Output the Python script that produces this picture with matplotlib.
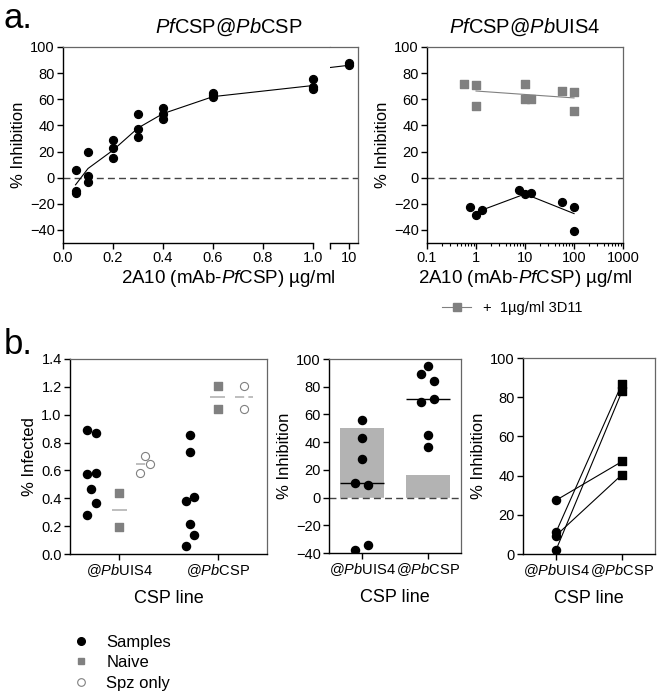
import matplotlib
matplotlib.use('Agg')
import matplotlib.pyplot as plt
from matplotlib.lines import Line2D
import numpy as np

plt.rcParams['font.family'] = ['Liberation Sans', 'DejaVu Sans']
plt.rcParams['mathtext.fontset'] = 'custom'
plt.rcParams['mathtext.rm'] = 'Liberation Sans'
plt.rcParams['mathtext.it'] = 'Liberation Sans:italic'

# ---- panel a (left): PfCSP@PbCSP, dose response ----
dose_pb = [0.05, 0.05, 0.05, 0.1, 0.1, 0.1, 0.2, 0.2, 0.2, 0.3, 0.3, 0.3,
           0.4, 0.4, 0.4, 0.6, 0.6, 0.6, 1.0, 1.0, 1.0, 10, 10]
inh_pb = [6, -10, -11.5, 19.5, 1.5, -3.3, 29, 22.5, 15, 49, 37.5, 31,
          53, 49, 44.5, 65, 63, 62, 75.5, 69, 67.5, 88, 86]
fit_dose_pb = [0.05, 0.1, 0.2, 0.3, 0.4, 0.6, 1.0, 10]
fit_inh_pb = [-5.5, 7, 21, 38, 49, 62, 70.5, 86]

# ---- panel a (right): PfCSP@PbUIS4 ----
dose_3d11 = [0.58, 1, 1, 10, 10, 13.5, 58, 100, 100]
inh_3d11 = [72, 71, 55, 71.5, 60, 60.5, 66, 65.3, 51.3]
fit_dose_3d11 = [1, 100]
fit_inh_3d11 = [66.3, 61]
dose_uis4 = [0.77, 1, 1.35, 7.5, 10, 13.5, 58, 100, 100]
inh_uis4 = [-22.7, -28.3, -24.5, -9.7, -12.8, -11.7, -18.4, -22.7, -40.8]
fit_dose_uis4 = [1, 10, 100]
fit_inh_uis4 = [-26.5, -12.5, -27.5]

# ---- panel b ----
csp_lines = [r'@$\it{Pb}$UIS4', r'@$\it{Pb}$CSP']
infected_samples = [[0.887, 0.866, 0.576, 0.585, 0.465, 0.365, 0.278],
                    [0.854, 0.729, 0.381, 0.408, 0.213, 0.137, 0.06]]
infected_naive = [[0.436, 0.192], [1.204, 1.043]]
infected_spz = [[0.707, 0.645, 0.58], [1.204, 1.043]]
# horizontal jitter within each CSP line
jit_samples = [[-0.33, -0.24, -0.33, -0.24, -0.29, -0.24, -0.33],
               [-0.28, -0.28, -0.32, -0.24, -0.28, -0.24, -0.32]]
jit_spz = [[0.26, 0.31, 0.21], [0.27, 0.27]]

inhibition_samples = [[56.2, 43.1, 27.6, 10.7, 8.8, -37.6, -34.3],
                      [95.2, 89.5, 84, 69, 71.2, 45.5, 36.2]]
jit_inhibition = [[0, 0, 0, -0.1, 0.09, -0.1, 0.09],
                  [0, -0.1, 0.09, -0.1, 0.09, 0, 0]]
inhibition_bars = [50.5, 16.4]

paired_uis4 = [27.4, 11.1, 2.0, 9.4]
paired_csp = [47.2, 86.9, 83.0, 40.5]

GRAY = '#808080'
LGRAY = '#b3b3b3'
TICK_FS = 10.5
YLAB_FS = 12


def style(ax, top=True, right=True):
    for s in ('left', 'bottom'):
        ax.spines[s].set_color('black')
        ax.spines[s].set_linewidth(1.0)
    for s in ('top', 'right'):
        ax.spines[s].set_color('#666666')
        ax.spines[s].set_linewidth(0.9)
    ax.spines['top'].set_visible(top)
    ax.spines['right'].set_visible(right)
    ax.tick_params(direction='out', length=4, width=1, labelsize=TICK_FS, pad=2)


def zero_line(ax):
    ax.axhline(0, color='#444444', lw=1.0, ls=(0, (5, 3)), gapcolor='white', zorder=1)


fig = plt.figure(figsize=(6.6, 6.98), dpi=100)

# ---------------- panel a, left (broken x axis) ----------------
ax1 = fig.add_axes([0.0955, 0.6519, 0.4045, 0.2808])
ax1b = fig.add_axes([0.5, 0.6519, 0.0424, 0.2808], sharey=ax1)
style(ax1, right=False)
style(ax1b)
ax1b.spines['left'].set_visible(False)

low = [i for i, d in enumerate(dose_pb) if d <= 1.0]
ax1.scatter([dose_pb[i] for i in low], [inh_pb[i] for i in low], s=32, color='black', zorder=3)
ax1.plot(fit_dose_pb[:-1], fit_inh_pb[:-1], color='black', lw=0.8, zorder=2)
zero_line(ax1)
ax1.set_xlim(0, 1.068)
ax1.spines['bottom'].set_bounds(0, 1.0)
ax1.set_xticks(np.arange(0, 1.01, 0.2))
ax1.set_xticklabels(['0.0', '0.2', '0.4', '0.6', '0.8', '1.0'])
ax1.set_ylim(-50, 100)
ax1.set_yticks(range(-40, 101, 20))
ax1.set_ylabel('% Inhibition', fontsize=YLAB_FS, labelpad=3)
ax1.set_title(r'$\it{Pf}$CSP@$\it{Pb}$CSP', fontsize=14.5, pad=10, x=0.62)
ax1.set_xlabel(r'2A10 (mAb-$\it{Pf}$CSP) µg/ml', fontsize=13.5, labelpad=2, x=0.62)

high = [i for i, d in enumerate(dose_pb) if d > 1.0]
ax1b.scatter([dose_pb[i] for i in high], [inh_pb[i] for i in high], s=32, color='black', zorder=3)
ax1b.plot(fit_dose_pb, fit_inh_pb, color='black', lw=0.8, zorder=2)
zero_line(ax1b)
ax1b.set_xlim(9.0, 10.47)
ax1b.set_xticks([9.0, 10])
ax1b.set_xticklabels(['', '10'])
ax1b.tick_params(axis='y', left=False, labelleft=False)

# ---------------- panel a, right (log x) ----------------
ax2 = fig.add_axes([0.647, 0.6519, 0.297, 0.2808])
style(ax2)
ax2.set_xscale('log')
ax2.scatter(dose_3d11, inh_3d11, s=30, marker='s', color=GRAY, zorder=3)
ax2.plot(fit_dose_3d11, fit_inh_3d11, color=GRAY, lw=0.8, zorder=2)
ax2.scatter(dose_uis4, inh_uis4, s=32, color='black', zorder=3)
ax2.plot(fit_dose_uis4, fit_inh_uis4, color='black', lw=0.8, zorder=2)
zero_line(ax2)
ax2.set_xlim(0.1, 1000)
ax2.set_xticks([0.1, 1, 10, 100, 1000])
ax2.set_xticklabels(['0.1', '1', '10', '100', '1000'])
ax2.tick_params(axis='x', which='minor', length=2, width=0.8)
ax2.set_ylim(-50, 100)
ax2.set_yticks(range(-40, 101, 20))
ax2.set_ylabel('% Inhibition', fontsize=YLAB_FS, labelpad=3)
ax2.set_title(r'$\it{Pf}$CSP@$\it{Pb}$UIS4', fontsize=14.5, pad=10)
ax2.set_xlabel(r'2A10 (mAb-$\it{Pf}$CSP) µg/ml', fontsize=13.5, labelpad=2)

h3d11 = Line2D([], [], color=GRAY, lw=0.8, marker='s', markersize=5.5)
fig.legend([h3d11], ['+  1µg/ml 3D11'], loc='center', bbox_to_anchor=(0.776, 0.559),
           frameon=False, fontsize=10.5, handlelength=2.0, handletextpad=0.8)

# ---------------- panel b, left: % infected ----------------
ax3 = fig.add_axes([0.106, 0.2063, 0.2985, 0.2794])
style(ax3)
for k in range(2):
    ax3.scatter([k + j for j in jit_samples[k]], infected_samples[k], s=34, color='black', zorder=3)
    ax3.scatter([k] * len(infected_naive[k]), infected_naive[k], s=30, marker='s', color=GRAY, zorder=3)
    ax3.hlines(np.mean(infected_naive[k]), k - 0.077, k + 0.077, color=LGRAY, lw=1.2, zorder=2)
    ax3.scatter([k + j for j in jit_spz[k]], infected_spz[k], s=34, facecolor='white',
                edgecolor=GRAY, linewidth=0.8, zorder=3)
    sx = np.mean(jit_spz[k]) + k
    ax3.hlines(np.median(infected_spz[k]), sx - 0.09, sx + 0.09, color=LGRAY, lw=1.2,
               linestyles=[(0, (5.5, 2.5))], zorder=2)
ax3.set_xlim(-0.5, 1.5)
ax3.set_xticks([0, 1])
ax3.set_xticklabels(csp_lines, fontsize=10.5)
ax3.set_ylim(0, 1.4)
ax3.set_yticks(np.arange(0, 1.41, 0.2))
ax3.set_yticklabels(['%.1f' % v for v in np.arange(0, 1.41, 0.2)])
ax3.set_ylabel('% Infected', fontsize=YLAB_FS, labelpad=3)
ax3.set_xlabel('CSP line', fontsize=13, labelpad=8)

# ---------------- panel b, middle: % inhibition with bars ----------------
ax4 = fig.add_axes([0.4985, 0.2077, 0.2, 0.2779])
style(ax4)
ax4.bar([0, 1], inhibition_bars, width=0.66, color=LGRAY, zorder=1)
zero_line(ax4)
for k in range(2):
    ax4.scatter([k + j for j in jit_inhibition[k]], inhibition_samples[k], s=34, color='black', zorder=3)
    ax4.hlines(np.median(inhibition_samples[k]), k - 0.33, k + 0.33, color='black', lw=1.0, zorder=2)
ax4.set_xlim(-0.5, 1.5)
ax4.set_xticks([0, 1])
ax4.set_xticklabels(csp_lines, fontsize=10.5)
ax4.set_ylim(-40, 100)
ax4.set_yticks(range(-40, 101, 20))
ax4.set_ylabel('% Inhibition', fontsize=YLAB_FS, labelpad=3)
ax4.set_xlabel('CSP line', fontsize=13, labelpad=8)

# ---------------- panel b, right: paired ----------------
ax5 = fig.add_axes([0.7924, 0.2063, 0.2, 0.2808])
style(ax5)
for u, c in zip(paired_uis4, paired_csp):
    ax5.plot([0, 1], [u, c], color='black', lw=0.8, zorder=2)
ax5.scatter([0] * len(paired_uis4), paired_uis4, s=34, color='black', zorder=3)
ax5.scatter([1] * len(paired_csp), paired_csp, s=34, marker='s', color='black', zorder=3)
ax5.set_xlim(-0.5, 1.5)
ax5.set_xticks([0, 1])
ax5.set_xticklabels(csp_lines, fontsize=10.5)
ax5.set_ylim(0, 100)
ax5.set_yticks(range(0, 101, 20))
ax5.set_ylabel('% Inhibition', fontsize=YLAB_FS, labelpad=3)
ax5.set_xlabel('CSP line', fontsize=13, labelpad=8)

# legend for panel b
hs = [Line2D([], [], ls='', marker='o', color='black', markersize=5.5),
      Line2D([], [], ls='', marker='s', color=GRAY, markersize=5),
      Line2D([], [], ls='', marker='o', markerfacecolor='white', markeredgecolor=GRAY,
             markeredgewidth=0.8, markersize=5.5)]
fig.legend(hs, ['Samples', 'Naive', 'Spz only'], loc='upper left', bbox_to_anchor=(0.088, 0.1),
           frameon=False, fontsize=12, handletextpad=0.5, labelspacing=0.32, borderaxespad=0)

fig.text(0.005, 0.997, 'a.', fontsize=25, va='top', ha='left')
fig.text(0.005, 0.53, 'b.', fontsize=25, va='top', ha='left')

fig.savefig('out.png', dpi=100)
